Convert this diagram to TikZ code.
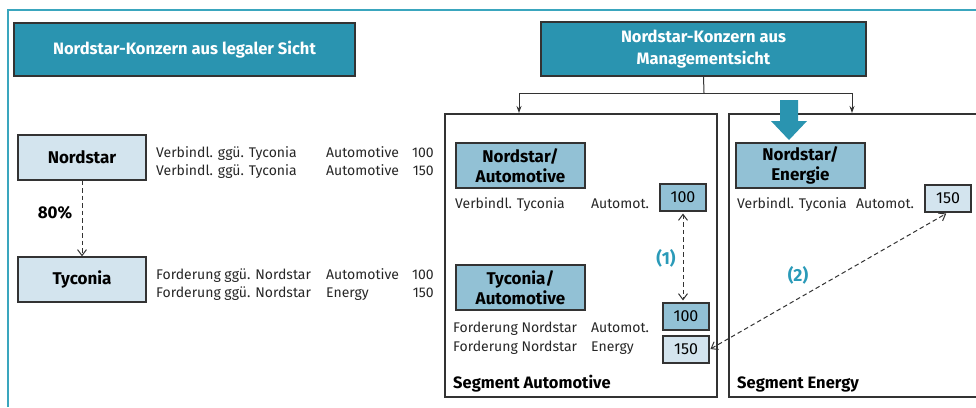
\documentclass[tikz,border=0pt]{standalone}
\usepackage{fontspec}
\setmainfont{Fira Sans}
\usetikzlibrary{arrows.meta}
\definecolor{titleblue}{HTML}{2A94B0}
\definecolor{midblue}{HTML}{92C1D5}
\definecolor{lightblue}{HTML}{D3E4EE}
\definecolor{frameteal}{HTML}{3AA6BE}
\definecolor{labelteal}{HTML}{2A9AB8}
\definecolor{boxline}{HTML}{333333}
\tikzset{
  x=1pt, y=-1pt,
  titlebox/.style={draw=boxline, fill=titleblue, text=white, line width=1.2pt, align=center, inner sep=0pt,
    font=\bfseries\fontsize{16.5}{22}\selectfont},
  entity/.style={draw=boxline, fill=lightblue, line width=1.2pt, inner sep=0pt, minimum width=128pt, minimum height=45pt,
    font=\bfseries\fontsize{17}{20}\selectfont, align=center},
  segentity/.style={entity, fill=midblue, minimum width=129pt},
  valbox/.style={draw=boxline, line width=1.1pt, inner sep=0pt, minimum width=46pt, minimum height=27pt,
    font=\fontsize{16}{18}\selectfont},
  segment/.style={draw=boxline, line width=1.2pt, inner sep=0pt},
  txt/.style={anchor=base west, inner sep=0pt, font=\fontsize{14}{16}\selectfont, text=black!85},
  txtr/.style={txt, anchor=base east},
  seglabel/.style={anchor=base west, inner sep=0pt, font=\bfseries\fontsize{16.5}{19}\selectfont},
  numlabel/.style={inner sep=0pt, font=\bfseries\fontsize{17.5}{20}\selectfont, text=labelteal},
  conn/.style={draw=boxline, line width=1pt},
  connarrow/.style={conn, -{Stealth[length=7pt,width=5pt]}},
  dasharrow/.style={draw=boxline, line width=1pt, dash pattern=on 4.5pt off 3pt},
  barb/.style={Straight Barb[length=6pt,width=9pt]},
}
\begin{document}
\begin{tikzpicture}
\useasboundingbox (0,0) rectangle (976,407);
% outer frame
\draw[frameteal, line width=2pt] (8,407) -- (8,10) -- (976,10);

% titles
\node[titlebox, minimum width=341pt, minimum height=53pt] (title1) at (184.5,49.5) {Nordstar-Konzern aus legaler Sicht};
\node[titlebox, minimum width=325pt, minimum height=54pt] (title2) at (703.5,49) {Nordstar-Konzern aus\\Managementsicht};

% left side
\node[entity] (nord) at (82,157.5) {Nordstar};
\node[entity] (tyc) at (82,279.5) {Tyconia};
\draw[dasharrow, -{Straight Barb[length=6pt,width=9pt]}] (nord.south) -- (tyc.north);
\node[inner sep=0pt, font=\bfseries\fontsize{17}{20}\selectfont] (pct) at (55,213) {80\%};

\node[txt] (l1a) at (156,157.5) {Verbindl. ggü. Tyconia};
\node[txt] (l1b) at (326,157.5) {Automotive};
\node[txtr] (l1c) at (434,157.5) {100};
\node[txt] (l2a) at (156,175.5) {Verbindl. ggü. Tyconia};
\node[txt] (l2b) at (326,175.5) {Automotive};
\node[txtr] (l2c) at (434,175.5) {150};
\node[txt] (l3a) at (156,279) {Forderung ggü. Nordstar};
\node[txt] (l3b) at (326,279) {Automotive};
\node[txtr] (l3c) at (434,279) {100};
\node[txt] (l4a) at (156,297) {Forderung ggü. Nordstar};
\node[txt] (l4b) at (326,297) {Energy};
\node[txtr] (l4c) at (434,297) {150};

% segments
\node[segment, minimum width=272pt, minimum height=283pt] (segA) at (581,255.5) {};
\node[segment, minimum width=272pt, minimum height=283pt] (segE) at (865,255.5) {};

% tree connector
\coordinate (junc) at (704,93);
\coordinate (jA) at (519,93);
\coordinate (jE) at (852,93);
\coordinate (tA) at (519,113);
\coordinate (tE) at (852,113);
\draw[conn] (title2.south) -- (junc);
\draw[conn] (jA) -- (jE);
\draw[connarrow] (jA) -- (tA);
\draw[connarrow] (jE) -- (tE);

% big arrow
\fill[titleblue] (780,100) -- (798,100) -- (798,121) -- (807,121) -- (789,140) -- (771,121) -- (780,121) -- cycle;

% segment automotive
\node[segentity] (na) at (520.5,165.5) {Nordstar/\\Automotive};
\node[txt] (a1) at (455,208) {Verbindl. Tyconia};
\node[txt] (a2) at (591,208) {Automot.};
\node[valbox, fill=midblue] (v100) at (683,197.5) {100};
\node[segentity] (ta) at (520.5,287.5) {Tyconia/\\Automotive};
\node[txt] (a3) at (453,332) {Forderung Nordstar};
\node[txt] (a4) at (591,332) {Automot.};
\node[txt] (a5) at (453,351) {Forderung Nordstar};
\node[txt] (a6) at (591,351) {Energy};
\node[valbox, fill=midblue] (f100) at (686,316.5) {100};
\node[valbox, fill=lightblue] (f150) at (686,349.5) {150};
\node[seglabel] (segAl) at (453,388) {Segment Automotive};
\draw[dasharrow, {Straight Barb[length=6pt,width=9pt]}-{Straight Barb[length=6pt,width=9pt]}, shorten <=2pt, shorten >=2pt]
  (v100.south) -- (v100.south |- f100.north);
\node[numlabel] (n1) at (666,258) {(1)};

% segment energy
\node[segentity] (ne) at (800.5,165.5) {Nordstar/\\Energie};
\node[txt] (e1) at (737,208) {Verbindl. Tyconia};
\node[txt] (e2) at (856,208) {Automot.};
\node[valbox, fill=lightblue] (e150) at (948,198.5) {150};
\node[seglabel] (segEl) at (737,388) {Segment Energy};
\draw[dasharrow, {Straight Barb[length=6pt,width=9pt]}-{Straight Barb[length=6pt,width=9pt]}, shorten <=1pt, shorten >=2pt]
  (f150.east) -- (e150.south);
\node[numlabel] (n2) at (798,275) {(2)};
\end{tikzpicture}
\end{document}
